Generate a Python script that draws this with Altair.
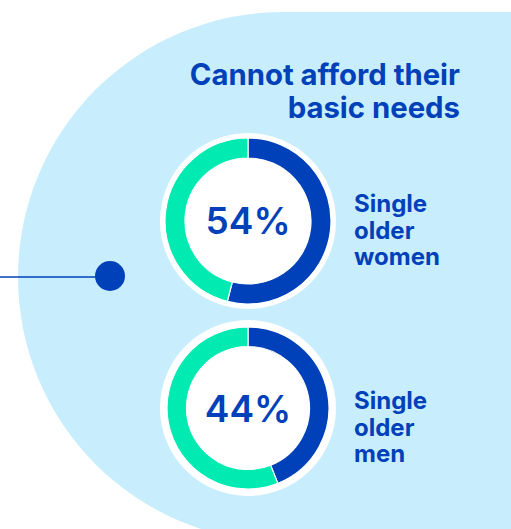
import math
import altair as alt
import pandas as pd

# ---------------- data ----------------
title_lines = ["Cannot afford their", "basic needs"]
groups = ["Single older women", "Single older men"]
shares = [54, 44]                      # % who cannot afford basic needs
label_lines = [["Single", "older", "women"], ["Single", "older", "men"]]
parts = ["cannot", "can"]

# ---------------- style / layout ----------------
W, H = 511, 529
DARK = "#0041B9"
GREEN = "#00EAB1"
BG = "#C8EEFE"
FONT = "Inter"

centers = [(248, 221), (248, 408)]
ring_outer = [83, 81]
ring_inner = [63, 61.5]
halo = 88
pct_baseline = [234, 422]
label_x = 354
label_baseline = [212, 409]

xs = alt.Scale(domain=[0, W], nice=False, zero=False)
ys = alt.Scale(domain=[0, H], reverse=True, nice=False, zero=False)


def X(f="x"):
    return alt.X(f"{f}:Q", scale=xs, axis=None)


def Y(f="y"):
    return alt.Y(f"{f}:Q", scale=ys, axis=None)


layers = []

# background blob: half circle + rectangle
blob = pd.DataFrame({"x": [283], "y": [277]})
layers.append(
    alt.Chart(blob).mark_arc(radius=265, theta=0, theta2=2 * math.pi, color=BG)
    .encode(x=X(), y=Y())
)
rect = pd.DataFrame({"x": [283], "x2": [W + 10], "y": [12], "y2": [H + 10]})
layers.append(
    alt.Chart(rect).mark_rect(color=BG)
    .encode(x=X(), x2="x2:Q", y=Y(), y2="y2:Q")
)

# connector line + dot
conn = pd.DataFrame({"x": [0], "x2": [110], "y": [277]})
layers.append(
    alt.Chart(conn).mark_rule(color=DARK, strokeWidth=1.5)
    .encode(x=X(), x2="x2:Q", y=Y())
)
dot = pd.DataFrame({"x": [110], "y": [276]})
layers.append(
    alt.Chart(dot).mark_circle(size=900, color=DARK, opacity=1)
    .encode(x=X(), y=Y())
)

# donuts
for i, (g, s) in enumerate(zip(groups, shares)):
    cx, cy = centers[i]
    halo_df = pd.DataFrame({"x": [cx], "y": [cy]})
    layers.append(
        alt.Chart(halo_df).mark_arc(radius=halo, theta=0, theta2=2 * math.pi, color="white")
        .encode(x=X(), y=Y())
    )
    df = pd.DataFrame({
        "grp": [g, g],
        "part": parts,
        "value": [s, 100 - s],
        "ord": [0, 1],
        "x": [cx, cx],
        "y": [cy, cy],
    })
    layers.append(
        alt.Chart(df)
        .transform_stack(stack="value", groupby=["grp"], as_=["t0", "t1"],
                         sort=[alt.SortField("ord")])
        .mark_arc(radius=ring_outer[i], radius2=ring_inner[i], stroke="white", strokeWidth=1.2)
        .encode(
            x=X(), y=Y(),
            theta=alt.Theta("t0:Q", scale=alt.Scale(domain=[0, 100], range=[0, 2 * math.pi])),
            theta2="t1:Q",
            color=alt.Color("part:N", scale=alt.Scale(domain=parts, range=[DARK, GREEN]), legend=None),
        )
    )
    pct = pd.DataFrame({"x": [cx], "y": [pct_baseline[i]], "t": [f"{s}%"]})
    layers.append(
        alt.Chart(pct).mark_text(font=FONT, fontSize=37, fontWeight=600, color=DARK,
                                 align="center", baseline="alphabetic")
        .encode(x=X(), y=Y(), text="t:N")
    )
    lab = pd.DataFrame({"x": [label_x], "y": [label_baseline[i]], "t": ["\n".join(label_lines[i])]})
    layers.append(
        alt.Chart(lab).mark_text(font=FONT, fontSize=24, fontWeight=700, color=DARK,
                                 align="left", baseline="alphabetic", lineBreak="\n", lineHeight=26.5)
        .encode(x=X(), y=Y(), text="t:N")
    )

# title
title_df = pd.DataFrame({"x": [460], "y": [85], "t": ["\n".join(title_lines)]})
layers.append(
    alt.Chart(title_df).mark_text(font=FONT, fontSize=29.3, fontWeight=700, color=DARK,
                                  align="right", baseline="alphabetic", lineBreak="\n", lineHeight=33)
    .encode(x=X(), y=Y(), text="t:N")
)

chart = (
    alt.layer(*layers)
    .properties(width=W, height=H, padding=0, autosize=alt.AutoSizeParams(type="none"),
                background="white")
    .configure_view(stroke=None)
)

chart.save("out.html", embed_options={"renderer": "svg", "actions": False})
